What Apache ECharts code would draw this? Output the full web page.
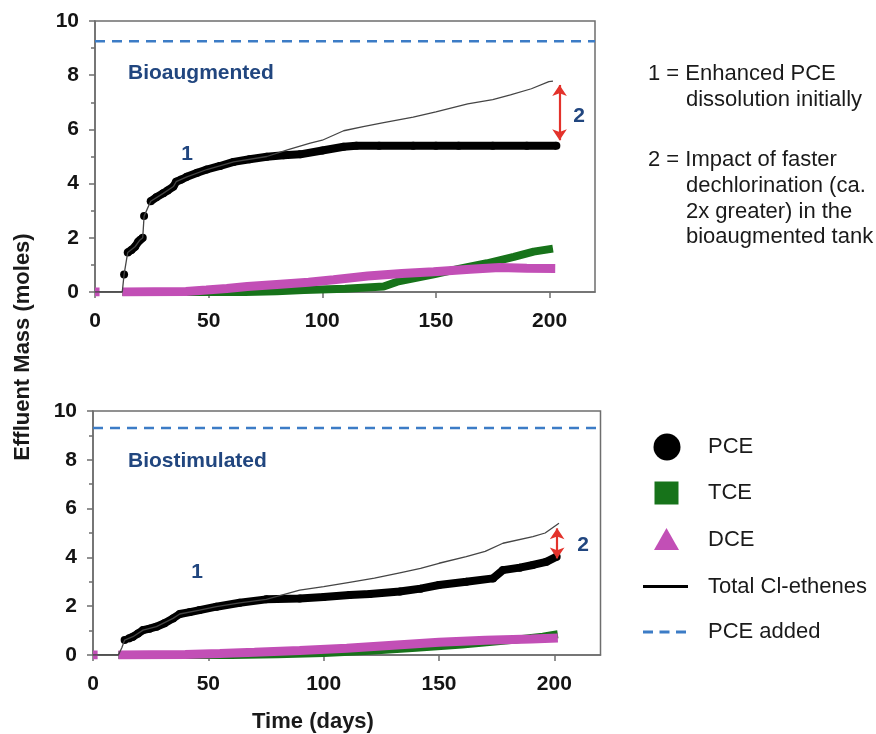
<!DOCTYPE html>
<html><head><meta charset="utf-8">
<script src="https://cdn.jsdelivr.net/npm/echarts/dist/echarts.min.js"></script>
<style>html,body{margin:0;padding:0;background:#fff}#c{width:876px;height:734px}</style>
</head><body><div id="c"></div>
<script>
// ---------- data ----------
const xTicks = [0, 50, 100, 150, 200];
const yTicks = [0, 2, 4, 6, 8, 10];
const legendNames = ['PCE', 'TCE', 'DCE', 'Total Cl-ethenes', 'PCE added'];

// Bioaugmented (top)
const pceTopDays = [12.8, 13.5, 14.4, 16, 17.6, 19, 19.8, 21, 21.3, 21.6, 23, 24.5, 27, 30, 32, 34.5, 35.7, 38, 40.4, 45, 49.2, 55, 61, 68, 75.6, 83, 90.3, 100, 109.4, 115, 125, 140, 150, 160, 175, 190, 203];
const pceTopVals = [0.65, null, 1.46, 1.55, 1.67, 1.85, 1.92, 2.0, null, 2.8, null, 3.35, 3.5, 3.64, 3.75, 3.89, 4.07, 4.15, 4.25, 4.4, 4.52, 4.65, 4.8, 4.9, 4.99, 5.05, 5.08, 5.22, 5.36, 5.4, 5.4, 5.4, 5.4, 5.4, 5.4, 5.4, 5.4];
const totalTopDays = [0, 12, 12.8, 14.4, 17.6, 19.8, 21, 21.6, 24.5, 30, 34.5, 35.7, 40.4, 49.2, 61, 75.6, 85, 94.7, 100, 109.4, 118, 127, 140, 150, 164, 175, 182.8, 192, 199.7, 201.5];
const totalTopVals = [0, 0, 0.65, 1.46, 1.67, 1.92, 2.0, 2.8, 3.35, 3.64, 3.89, 4.07, 4.25, 4.52, 4.8, 5.0, 5.25, 5.49, 5.6, 5.95, 6.1, 6.25, 6.45, 6.65, 6.94, 7.1, 7.27, 7.5, 7.76, 7.78];
const tceTopDays = [12, 66, 80, 92, 110, 127, 133, 149, 160, 172.5, 184.3, 193, 201.5];
const tceTopVals = [0, 0, 0.03, 0.07, 0.12, 0.2, 0.38, 0.65, 0.85, 1.06, 1.3, 1.49, 1.6];
const dceTopDays = [0, 2, 2.5, 12, 40, 49, 58, 67, 80, 94, 105, 120, 135, 149, 165, 178, 190, 202.5];
const dceTopVals = [0, 0, null, 0, 0.02, 0.07, 0.13, 0.2, 0.28, 0.36, 0.45, 0.59, 0.68, 0.75, 0.84, 0.9, 0.88, 0.87];
const pceAddedTop = 9.25;
const arrowTop = [204.4, 7.64, 5.6]; // day, upper value, lower value

// Biostimulated (bottom)
const pceBotDays = [13.7, 14.5, 15.5, 17.3, 19.5, 21.7, 24.5, 27.5, 31, 34.7, 37.6, 42, 46.2, 53.5, 63.6, 75.1, 89.6, 100, 111.2, 120, 133, 142, 150, 161.8, 173.4, 177.7, 185, 190.7, 196.5, 201];
const pceBotVals = [0.61, null, 0.68, 0.75, 0.88, 1.02, 1.08, 1.16, 1.3, 1.5, 1.68, 1.76, 1.84, 1.98, 2.14, 2.28, 2.32, 2.38, 2.46, 2.5, 2.6, 2.72, 2.87, 3.0, 3.14, 3.48, 3.58, 3.69, 3.82, 4.03];
const totalBotDays = [0, 11, 12.5, 13.7, 17.3, 21.7, 27.5, 34.7, 37.6, 46.2, 53.5, 63.6, 75.1, 89.6, 100, 111.2, 122, 133, 142, 150, 161.8, 170, 177.7, 190.7, 196, 202];
const totalBotVals = [0, 0, 0.3, 0.61, 0.75, 1.02, 1.16, 1.5, 1.68, 1.84, 1.98, 2.14, 2.28, 2.66, 2.8, 2.98, 3.15, 3.37, 3.55, 3.76, 4.03, 4.25, 4.58, 4.85, 5.0, 5.4];
const tceBotDays = [11, 60, 80, 100, 120, 140, 160, 180, 195, 201.5];
const tceBotVals = [0, 0, 0.03, 0.08, 0.17, 0.3, 0.43, 0.6, 0.75, 0.85];
const dceBotDays = [0, 2, 2.5, 11, 40, 55, 70, 89.6, 110, 130, 150, 170, 190, 201.5];
const dceBotVals = [0, 0, null, 0, 0.02, 0.06, 0.11, 0.18, 0.28, 0.4, 0.52, 0.6, 0.66, 0.7];
const pceAddedBot = 9.3;
const arrowBot = [201.2, 5.19, 3.96];

const xRange = [0, 220];
const yRange = [0, 10];

// ---------- styling ----------
const FONT = '"Liberation Sans", Arial, Helvetica, sans-serif';
const AX = '#6e6e6e';
const BLACK = '#000000';
const GREEN = '#17731a';
const MAG = '#c24fb6';
const BLUE_DASH = '#3c7cc6';
const RED = '#e3322b';
const NAVY = '#21467f';

const pairs = (d, v) => d.map((x, i) => [x, v[i] === null ? null : v[i]]);

function xAxisCfg(grid) {
  return {
    gridIndex: grid, type: 'value', min: xRange[0], max: xRange[1], interval: 50,
    axisLine: { lineStyle: { color: AX, width: 1.5 } },
    axisTick: { length: 6, customValues: xTicks, lineStyle: { color: AX, width: 1.5 } },
    axisLabel: { customValues: xTicks, color: '#141414', fontSize: 21, fontWeight: 'bold', fontFamily: FONT, margin: 19 },
    splitLine: { show: false }
  };
}
function yAxisCfg(grid) {
  return {
    gridIndex: grid, type: 'value', min: yRange[0], max: yRange[1], interval: 2,
    axisLine: { show: true, lineStyle: { color: AX, width: 1.5 } },
    axisTick: { show: true, length: 6, lineStyle: { color: AX, width: 1.5 } },
    minorTick: { show: true, splitNumber: 2, length: 4, lineStyle: { color: AX, width: 1.5 } },
    axisLabel: { color: '#141414', fontSize: 21, fontWeight: 'bold', fontFamily: FONT, margin: 16 },
    splitLine: { show: false }, minorSplitLine: { show: false }
  };
}
function panelSeries(idx, p) {
  return [
    { name: 'TCE', type: 'line', xAxisIndex: idx, yAxisIndex: idx, data: pairs(p.tceD, p.tceV),
      symbol: 'none', lineStyle: { color: GREEN, width: 8 }, itemStyle: { color: GREEN }, z: 2 },
    { name: 'DCE', type: 'line', xAxisIndex: idx, yAxisIndex: idx, data: pairs(p.dceD, p.dceV),
      symbol: 'none', lineStyle: { color: MAG, width: 9 }, itemStyle: { color: MAG }, z: 3 },
    { name: 'PCE', type: 'line', xAxisIndex: idx, yAxisIndex: idx, data: pairs(p.pceD, p.pceV),
      symbol: 'circle', symbolSize: 8, showSymbol: true, lineStyle: { color: BLACK, width: 8 },
      itemStyle: { color: BLACK }, z: 4 },
    { name: 'Total Cl-ethenes', type: 'line', xAxisIndex: idx, yAxisIndex: idx, data: pairs(p.totD, p.totV),
      symbol: 'none', lineStyle: { color: '#454545', width: 1.3 }, itemStyle: { color: '#111' }, z: 5,
      markLine: { silent: true, symbol: ['arrow', 'arrow'], symbolSize: 11, label: { show: false },
        lineStyle: { color: RED, width: 2.2, type: 'solid' },
        data: [[{ coord: [p.arrow[0], p.arrow[1]] }, { coord: [p.arrow[0], p.arrow[2]] }]] } },
    { name: 'PCE added', type: 'line', xAxisIndex: idx, yAxisIndex: idx,
      data: [[xRange[0], p.added], [xRange[1], p.added]],
      symbol: 'none', lineStyle: { color: BLUE_DASH, width: 2.5, type: [10, 7] }, itemStyle: { color: BLUE_DASH }, z: 6 }
  ];
}

const panelTop = { pceD: pceTopDays, pceV: pceTopVals, totD: totalTopDays, totV: totalTopVals, tceD: tceTopDays, tceV: tceTopVals, dceD: dceTopDays, dceV: dceTopVals, added: pceAddedTop, arrow: arrowTop };
const panelBot = { pceD: pceBotDays, pceV: pceBotVals, totD: totalBotDays, totV: totalBotVals, tceD: tceBotDays, tceV: tceBotVals, dceD: dceBotDays, dceV: dceBotVals, added: pceAddedBot, arrow: arrowBot };

function txt(text, x, y, opt) {
  opt = opt || {};
  return { type: 'text', x: x, y: y, rotation: opt.rotation || 0, z: 100,
    style: { text: text, fill: opt.fill || '#1a1a1a', fontSize: opt.size || 22, fontWeight: opt.bold ? 'bold' : 'normal',
      fontFamily: FONT, textAlign: opt.align || 'left', textVerticalAlign: 'middle' } };
}

// legend (drawn as graphic so icon sizes match the original key)
const legendGraphic = [
  { type: 'circle', shape: { cx: 667, cy: 447, r: 13.5 }, style: { fill: BLACK }, z: 100 },
  { type: 'rect', shape: { x: 654.5, y: 481.5, width: 24, height: 23 }, style: { fill: GREEN }, z: 100 },
  { type: 'polygon', shape: { points: [[666.5, 528], [679, 550], [654, 550]] }, style: { fill: MAG }, z: 100 },
  { type: 'line', shape: { x1: 643, y1: 586.5, x2: 688, y2: 586.5 }, style: { stroke: BLACK, lineWidth: 3 }, z: 100 },
  { type: 'line', shape: { x1: 643, y1: 632, x2: 688, y2: 632 }, style: { stroke: BLUE_DASH, lineWidth: 3, lineDash: [10, 6.5] }, z: 100 }
];
const legendY = [447, 493, 540, 586.5, 632];
legendNames.forEach((n, i) => legendGraphic.push(txt(n, 708, legendY[i])));

const chart = echarts.init(document.getElementById('c'), null, { renderer: 'canvas' });
chart.setOption({
  animation: false,
  backgroundColor: '#ffffff',
  grid: [
    { left: 95, top: 21, width: 500, height: 271, show: true, borderColor: AX, borderWidth: 1.5, backgroundColor: 'transparent', containLabel: false },
    { left: 93, top: 411, width: 507.5, height: 244, show: true, borderColor: AX, borderWidth: 1.5, backgroundColor: 'transparent', containLabel: false }
  ],
  xAxis: [xAxisCfg(0), xAxisCfg(1)],
  yAxis: [yAxisCfg(0), yAxisCfg(1)],
  series: panelSeries(0, panelTop).concat(panelSeries(1, panelBot)),
  graphic: [
    txt('Bioaugmented', 128, 73, { bold: true, fill: NAVY, size: 21 }),
    txt('1', 187, 154, { bold: true, fill: NAVY, align: 'center', size: 21 }),
    txt('2', 579, 116, { bold: true, fill: NAVY, align: 'center', size: 21 }),
    txt('Biostimulated', 128, 461, { bold: true, fill: NAVY, size: 21 }),
    txt('1', 197, 572, { bold: true, fill: NAVY, align: 'center', size: 21 }),
    txt('2', 583, 545, { bold: true, fill: NAVY, align: 'center', size: 21 }),
    txt('1 = Enhanced PCE', 648, 74),
    txt('dissolution initially', 686, 99.5),
    txt('2 = Impact of faster', 648, 159.5),
    txt('dechlorination (ca.', 686, 186),
    txt('2x greater) in the', 686, 211.5),
    txt('bioaugmented tank', 686, 237),
    txt('Effluent Mass (moles)', 23, 347, { bold: true, align: 'center', rotation: Math.PI / 2 }),
    txt('Time (days)', 313, 722, { bold: true, align: 'center' })
  ].concat(legendGraphic)
});
</script>
</body></html>
